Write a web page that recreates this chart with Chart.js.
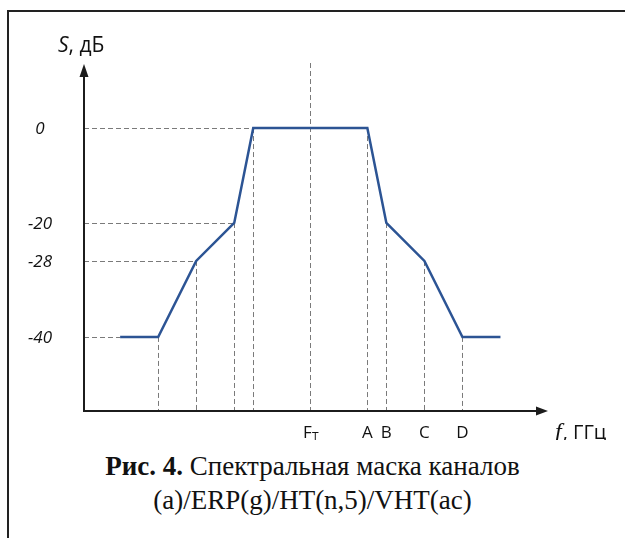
<!DOCTYPE html>
<html>
<head>
<meta charset="utf-8">
<script src="https://cdn.jsdelivr.net/npm/chart.js@4/dist/chart.umd.min.js"></script>
<style>
  html, body { margin:0; padding:0; background:#fff; }
  #page { position:relative; width:625px; height:538px; overflow:hidden; }
  #frame { position:absolute; left:7px; top:10px; width:700px; height:600px;
           border-top:2px solid #222; border-left:2px solid #222; }
  #chart { position:absolute; left:0; top:0; }
  #caption { position:absolute; left:0; top:449px; width:625px; text-align:center;
             font-family:"Liberation Serif","Times New Roman",serif; font-size:27px;
             line-height:34px; color:#111; }
  #caption b { font-weight:bold; }
</style>
</head>
<body>
<div id="page">
  <div id="frame"></div>
  <canvas id="chart" width="625" height="440"></canvas>
  <div id="caption"><b>Рис. 4.</b> Спектральная маска каналов<br>(a)/ERP(g)/HT(n,5)/VHT(ac)</div>
</div>
<script>
// spectral mask, frequency as offset from F_T (schematic units)
const maskFreq  = [-10, -8, -6, -4, -3, 3, 4, 6, 8, 10];
const maskLevel = [-40, -40, -28, -20, 0, 0, -20, -28, -40, -40];
// level ticks (dB) and frequency marks
const levelTicks = [0, -20, -28, -40];
const levelLabels = ['0', '-20', '-28', '-40'];
const freqMarks  = [3, 4, 6, 8];
const freqLabels = ['A', 'B', 'C', 'D'];
const centerFreq = 0;

// the drawing is not to scale in dB: piecewise linear axis through the labelled levels
const LinearScale = Chart.LinearScale || Chart.registry.getScale('linear');
class PiecewiseScale extends LinearScale {
  toUnit(v) {
    const s = this.options.stops;
    let i = 0;
    while (i < s.length - 2 && v > s[i + 1][0]) i++;
    const [v0, u0] = s[i], [v1, u1] = s[i + 1];
    return u0 + (v - v0) * (u1 - u0) / (v1 - v0);
  }
  fromUnit(u) {
    const s = this.options.stops;
    let i = 0;
    while (i < s.length - 2 && u > s[i + 1][1]) i++;
    const [v0, u0] = s[i], [v1, u1] = s[i + 1];
    return v0 + (u - u0) * (v1 - v0) / (u1 - u0);
  }
  getPixelForValue(value) {
    const a = this.toUnit(this.min), b = this.toUnit(this.max);
    return this.getPixelForDecimal((this.toUnit(value) - a) / (b - a));
  }
  getValueForPixel(pixel) {
    const a = this.toUnit(this.min), b = this.toUnit(this.max);
    return this.fromUnit(a + this.getDecimalForPixel(pixel) * (b - a));
  }
}
PiecewiseScale.id = 'piecewise';
PiecewiseScale.defaults = { ticks: { callback: v => String(v) } };
Chart.register(PiecewiseScale);

const AXIS = '#1c1c1c', GUIDE = '#7a7a7a', MASK = '#2c5494';
const SANS = '"Open Sans","Noto Sans",sans-serif';

const schematic = {
  id: 'schematic',
  beforeDatasetsDraw(chart) {
    const { ctx, chartArea: ca, scales: { x, y } } = chart;
    const x0 = x.getPixelForValue(x.min), yAx = y.getPixelForValue(y.min);
    ctx.save();
    ctx.strokeStyle = GUIDE; ctx.lineWidth = 1; ctx.setLineDash([5, 3]);
    // horizontal guides to the first point at each level
    levelTicks.forEach(l => {
      const i = maskLevel.indexOf(l);
      const py = Math.round(y.getPixelForValue(l)) + 0.5;
      ctx.beginPath(); ctx.moveTo(x0, py); ctx.lineTo(x.getPixelForValue(maskFreq[i]), py); ctx.stroke();
    });
    // vertical guides from breakpoints down to the axis
    for (let i = 1; i < maskFreq.length - 1; i++) {
      const px = Math.round(x.getPixelForValue(maskFreq[i])) + 0.5;
      ctx.beginPath(); ctx.moveTo(px, y.getPixelForValue(maskLevel[i])); ctx.lineTo(px, yAx); ctx.stroke();
    }
    const pc = Math.round(x.getPixelForValue(centerFreq)) + 0.5;
    ctx.beginPath(); ctx.moveTo(pc, ca.top - 2); ctx.lineTo(pc, yAx); ctx.stroke();
    ctx.restore();
  },
  afterDraw(chart) {
    const { ctx, chartArea: ca, scales: { x, y } } = chart;
    const x0 = x.getPixelForValue(x.min), yAx = y.getPixelForValue(y.min);
    ctx.save();
    // axes with arrows
    ctx.strokeStyle = AXIS; ctx.fillStyle = AXIS; ctx.lineWidth = 2;
    ctx.beginPath(); ctx.moveTo(x0, yAx); ctx.lineTo(x0, ca.top + 10); ctx.stroke();
    ctx.beginPath(); ctx.moveTo(x0, ca.top - 1); ctx.lineTo(x0 - 4.5, ca.top + 12); ctx.lineTo(x0 + 4.5, ca.top + 12); ctx.fill();
    ctx.beginPath(); ctx.moveTo(x0 - 1, yAx); ctx.lineTo(ca.right - 10, yAx); ctx.stroke();
    ctx.beginPath(); ctx.moveTo(ca.right, yAx); ctx.lineTo(ca.right - 12, yAx - 4.5); ctx.lineTo(ca.right - 12, yAx + 4.5); ctx.fill();

    ctx.fillStyle = '#111';
    // level labels
    ctx.font = 'italic 17px ' + SANS; ctx.textAlign = 'center'; ctx.textBaseline = 'middle';
    levelTicks.forEach((l, i) => ctx.fillText(levelLabels[i], 40, y.getPixelForValue(l) + 1));
    // frequency labels
    ctx.font = '17px ' + SANS; ctx.textBaseline = 'alphabetic';
    freqMarks.forEach((f, i) => ctx.fillText(freqLabels[i], x.getPixelForValue(f), yAx + 27));
    const pc = x.getPixelForValue(centerFreq);
    ctx.fillText('F', pc - 3, yAx + 27);
    ctx.font = '12px ' + SANS; ctx.fillText('T', pc + 5, yAx + 30);

    // axis titles
    ctx.textAlign = 'left';
    ctx.font = 'italic 21px ' + SANS; ctx.fillText('S', 58, 52);
    let w = ctx.measureText('S').width;
    ctx.font = '21px ' + SANS; ctx.fillText(', дБ', 58 + w, 52);
    ctx.font = 'italic 24px "Liberation Serif",serif'; ctx.fillText('f', 555, yAx + 28);
    w = ctx.measureText('f').width;
    ctx.font = '20px ' + SANS; ctx.fillText(', ГГц', 555 + w + 1, yAx + 28);
    ctx.restore();
  }
};

new Chart(document.getElementById('chart'), {
  type: 'line',
  data: {
    datasets: [{
      data: maskFreq.map((f, i) => ({ x: f, y: maskLevel[i] })),
      borderColor: MASK, borderWidth: 2.5, pointRadius: 0, tension: 0, fill: false, clip: false
    }]
  },
  options: {
    responsive: false, animation: false, events: [],
    layout: { padding: { left: 84, right: 77, top: 65, bottom: 29 } },
    plugins: { legend: { display: false }, tooltip: { enabled: false } },
    scales: {
      x: { type: 'linear', min: -11.9, max: 12.5, display: false },
      y: { type: 'piecewise', min: -51.7, max: 13.3, display: false,
           stops: [[-51.7, -14.9], [-40, -11], [-28, -7], [-20, -5], [0, 0], [13.3, 3.32]] }
    }
  },
  plugins: [schematic]
});
</script>
</body>
</html>
